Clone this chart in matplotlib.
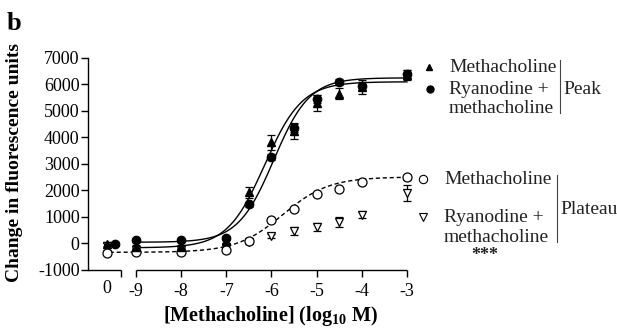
import numpy as np
import matplotlib
matplotlib.use("Agg")
import matplotlib.pyplot as plt
from matplotlib.lines import Line2D

plt.rcParams['font.family'] = ['Liberation Serif', 'DejaVu Serif']
plt.rcParams['mathtext.fontset'] = 'custom'
plt.rcParams['mathtext.rm'] = 'Liberation Serif'
plt.rcParams['mathtext.bf'] = 'Liberation Serif:bold'
plt.rcParams['mathtext.it'] = 'Liberation Serif:italic'

# ---- data ----
log_conc = [-9, -8, -7, -6.5, -6, -5.5, -5, -4.5, -4, -3]
ctrl_x = -9.64  # position used for the "0" (control) point on the broken axis

peak_mch = [-150, -150, 80, 1920, 3810, 4250, 5300, 5650, 5900, 6350]
peak_mch_err = [60, 60, 80, 200, 280, 300, 300, 200, 250, 200]
peak_mch_ctrl = -50

peak_rya = [100, 100, 180, 1470, 3250, 4350, 5450, 6100, 5950, 6400]
peak_rya_err = [60, 60, 80, 100, 120, 150, 150, 120, 150, 150]
peak_rya_ctrl = -30

plat_mch = [-330, -330, -270, 70, 870, 1280, 1850, 2040, 2300, 2480]
plat_mch_err = [40, 40, 40, 60, 60, 60, 60, 60, 80, 100]
plat_mch_ctrl = -370

plat_rya = [-250, -250, -150, 30, 270, 450, 600, 800, 1080, 1900]
plat_rya_err = [50, 50, 50, 60, 80, 150, 150, 180, 150, 300]
plat_rya_ctrl = -100
plat_rya_ctrl_err = 150

# fitted 4-parameter logistic curves: bottom, top, logEC50, hill
fit_peak_mch = (-180, 6100, -6.15, 1.05)
fit_peak_rya = (30, 6250, -5.95, 1.1)
fit_plat_mch = (-350, 2500, -5.75, 0.85)

x_ticks = [-9, -8, -7, -6, -5, -4, -3]
x_ticklabels = ['-9', '-8', '-7', '-6', '-5', '-4', '-3']
y_ticks = [-1000, 0, 1000, 2000, 3000, 4000, 5000, 6000, 7000]


def logistic(x, p):
    b, t, ec, h = p
    return b + (t - b) / (1 + 10 ** ((ec - x) * h))


fig = plt.figure(figsize=(6.17, 3.29), dpi=100)
W, H = 617, 329
ax = fig.add_axes([88 / W, (H - 269.5) / H, 319 / W, (269.5 - 58) / H])

xmin, xmax = -10.06, -3
ax.set_xlim(xmin, xmax)
ax.set_ylim(-1000, 7000)

# curves
xs = np.linspace(-9, -3, 300)
ax.plot(xs, logistic(xs, fit_peak_mch), color='black', lw=1.0, clip_on=False)
ax.plot(xs, logistic(xs, fit_peak_rya), color='black', lw=1.0, clip_on=False)
xs2 = np.linspace(-9.58, -3, 300)
ax.plot(xs2, logistic(xs2, fit_plat_mch), color='black', lw=1.0, ls=(0, (3, 2)), clip_on=False)

ms = 6
ebkw = dict(ecolor='black', elinewidth=0.9, capsize=3, capthick=0.9, clip_on=False)

# plateau ryanodine (open down triangles)
ax.errorbar(log_conc, plat_rya, yerr=plat_rya_err, fmt='v', mfc='white', mec='black',
            mew=0.9, ms=ms, **ebkw)
ax.errorbar([ctrl_x], [plat_rya_ctrl], yerr=[plat_rya_ctrl_err], fmt='v', mfc='white',
            mec='black', mew=0.9, ms=ms, **ebkw)
# plateau methacholine (open circles)
ax.errorbar(log_conc, plat_mch, yerr=plat_mch_err, fmt='o', mfc='white', mec='black',
            mew=0.9, ms=ms + 0.5, **ebkw)
ax.errorbar([ctrl_x], [plat_mch_ctrl], yerr=[40], fmt='o', mfc='white', mec='black',
            mew=0.9, ms=ms + 0.5, **ebkw)
# peak methacholine (filled triangles)
ax.errorbar(log_conc, peak_mch, yerr=peak_mch_err, fmt='^', color='black', ms=ms, **ebkw)
ax.errorbar([ctrl_x], [peak_mch_ctrl], yerr=[60], fmt='^', color='black', ms=ms, **ebkw)
# peak ryanodine (filled circles)
ax.errorbar(log_conc, peak_rya, yerr=peak_rya_err, fmt='o', color='black', ms=ms, **ebkw)
ax.errorbar([ctrl_x + 0.17], [peak_rya_ctrl], yerr=[60], fmt='o', color='black', ms=ms, **ebkw)

# axes styling
for s in ['top', 'right', 'bottom']:
    ax.spines[s].set_visible(False)
ax.spines['left'].set_linewidth(1.0)
ax.set_yticks(y_ticks)
ax.set_yticklabels([str(v) for v in y_ticks])
ax.tick_params(axis='y', direction='out', length=5, width=1.0, labelsize=13, pad=1)

brk = -9.33
ax.set_xticks([brk] + x_ticks)
ax.set_xticklabels([''] + x_ticklabels)
ax.tick_params(axis='x', direction='out', length=5, width=1.0, labelsize=13, pad=5)
# broken bottom axis
ax.plot([xmin, brk], [-1000, -1000], color='black', lw=1.0, clip_on=False,
        solid_capstyle='butt')
ax.plot([-9, -3], [-1000, -1000], color='black', lw=1.0, clip_on=False,
        solid_capstyle='butt')
ax.text(ctrl_x, -1000 - 10 / 26.43 * 1000, '0', ha='center', va='top', fontsize=13)

fig.text(15 / W, (H - 163) / H, 'Change in fluorescence units', rotation=90,
         ha='center', va='center', fontsize=14, fontweight='bold')
fig.text(270 / W, (H - 316) / H, r'[Methacholine] (log$_{\mathbf{10}}$ M)', ha='center',
         va='center', fontsize=14.5, fontweight='bold')
fig.text(7 / W, (H - 30) / H, 'b', fontsize=19, fontweight='bold', ha='left', va='baseline')

# legends
lfs = 14
tc = '#222222'


def px(x, y):
    return x / W, (H - y) / H


fig.add_artist(Line2D([px(429, 67)[0]], [px(429, 67)[1]], marker='^', color='black', ms=5,
                      transform=fig.transFigure))
fig.add_artist(Line2D([px(430, 89)[0]], [px(430, 89)[1]], marker='o', color='black', ms=5,
                      transform=fig.transFigure))
fig.text(*px(449, 67), 'Methacholine', fontsize=lfs, va='center', ha='left', color=tc)
fig.text(*px(449, 89), 'Ryanodine +', fontsize=lfs, va='center', ha='left', color=tc)
fig.text(*px(449, 108), 'methacholine', fontsize=lfs, va='center', ha='left', color=tc)
fig.add_artist(Line2D([560 / W, 560 / W], [px(0, 60)[1], px(0, 113)[1]], color='#444444',
                      lw=0.8, transform=fig.transFigure))
fig.text(*px(563, 89), 'Peak', fontsize=lfs, va='center', ha='left', color=tc)

fig.add_artist(Line2D([px(423, 179)[0]], [px(423, 179)[1]], marker='o', mfc='white',
                      mec='black', mew=0.8, ms=6, transform=fig.transFigure))
fig.add_artist(Line2D([px(423, 217)[0]], [px(423, 217)[1]], marker='v', mfc='white',
                      mec='black', mew=0.8, ms=5.5, transform=fig.transFigure))
fig.text(*px(444, 179), 'Methacholine', fontsize=lfs, va='center', ha='left', color=tc)
fig.text(*px(444, 217), 'Ryanodine +', fontsize=lfs, va='center', ha='left', color=tc)
fig.text(*px(444, 238), 'methacholine', fontsize=lfs, va='center', ha='left', color=tc)
fig.text(*px(485, 256), '***', fontsize=13, va='center', ha='center', color=tc,
         fontweight='bold')
fig.add_artist(Line2D([557 / W, 557 / W], [px(0, 175)[1], px(0, 242)[1]], color='#444444',
                      lw=0.8, transform=fig.transFigure))
fig.text(*px(560, 210), 'Plateau', fontsize=lfs, va='center', ha='left', color=tc)

fig.savefig('out.png', dpi=100)
